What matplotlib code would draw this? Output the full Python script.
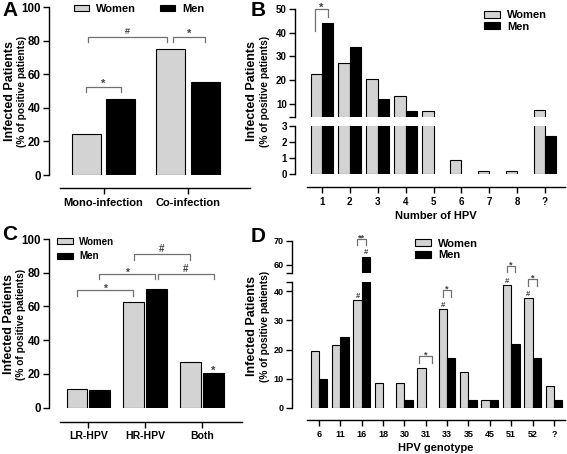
import numpy as np
import matplotlib
matplotlib.use('Agg')
import matplotlib.pyplot as plt

plt.rcParams['font.family'] = ['Liberation Sans', 'DejaVu Sans']
plt.rcParams['font.weight'] = 'bold'
plt.rcParams['axes.labelweight'] = 'bold'
plt.rcParams['axes.linewidth'] = 1.0

WOMEN_COLOR = '#d3d3d3'
MEN_COLOR = 'black'
BRACKET_COLOR = '#707070'
SIG_COLOR = '#404040'

# A - mono vs co-infection
a_cats = ['Mono-infection', 'Co-infection']
a_women = [24.4, 75.1]
a_men = [45.3, 55.5]

# B - number of HPV
b_cats = ['1', '2', '3', '4', '5', '6', '7', '8', '?']
b_women = [22.7, 27.3, 20.4, 13.2, 7.0, 0.9, 0.2, 0.2, 7.3]
b_men = [44.0, 34.1, 12.0, 7.0, 0, 0, 0, 0, 2.4]

# C - risk group
c_cats = ['LR-HPV', 'HR-HPV', 'Both']
c_women = [10.8, 62.8, 27.2]
c_men = [10.6, 70.6, 20.6]

# D - genotype
d_cats = ['6', '11', '16', '18', '30', '31', '33', '35', '45', '51', '52', '?']
d_women = [19.5, 21.6, 36.9, 8.6, 8.6, 13.5, 33.9, 12.3, 2.5, 42.2, 37.7, 7.4]
d_men = [9.7, 24.4, 63.4, 0, 2.5, 0, 17.1, 2.5, 2.5, 22.0, 17.1, 2.5]

W, H = 567, 454


def box(left, top, width, height):
    # pixel box (from top-left) -> figure fraction
    return [left / W, 1 - (top + height) / H, width / W, height / H]


def draw_bars(ax, women, men, width, off):
    x = np.arange(len(women))
    w = np.array(women, float)
    m = np.array(men, float)
    kw = dict(edgecolor='black', linewidth=0.8)
    bw = ax.bar(x[w > 0] - off, w[w > 0], width, color=WOMEN_COLOR, label='Women', **kw)
    bm = ax.bar(x[m > 0] + off, m[m > 0], width, color=MEN_COLOR, label='Men', **kw)
    return bw, bm


def style(ax, xlim, ylim, yticks, yfs, yout=8, xout=9.5, show_x=True, cats=None, xfs=7.5,
          breaks=()):
    ax.set_xlim(xlim)
    ax.set_ylim(ylim)
    ax.set_yticks(yticks)
    ax.set_yticks(list(breaks), minor=True)
    ax.spines[['top', 'right']].set_visible(False)
    ax.spines['left'].set_position(('outward', yout))
    ax.tick_params(axis='y', labelsize=yfs, length=4, width=1, pad=2)
    ax.tick_params(axis='y', which='minor', length=4, width=1)
    if show_x:
        ax.spines['bottom'].set_position(('outward', xout))
        ax.set_xticks(np.arange(len(cats)))
        ax.set_xticklabels(cats)
        ax.tick_params(axis='x', labelsize=xfs, length=4, width=1, pad=3)
    else:
        ax.spines['bottom'].set_visible(False)
        ax.tick_params(axis='x', bottom=False, labelbottom=False)


def bracket(ax, x1, x2, y, y1, y2, label, fs=7, dy=0):
    ax.plot([x1, x1, x2, x2], [y1, y, y, y2], color=BRACKET_COLOR, lw=0.9,
            clip_on=False)
    ax.annotate(label, ((x1 + x2) / 2, y), xytext=(0, dy), textcoords='offset points',
                ha='center', va='baseline', fontsize=fs, color=SIG_COLOR,
                annotation_clip=False)


def mark(ax, x, y, label, fs=5.5, dy=1.5):
    ax.annotate(label, (x, y), xytext=(0, dy), textcoords='offset points',
                ha='center', va='baseline', fontsize=fs, color=SIG_COLOR,
                annotation_clip=False)


def ylabel(x1, x2, y):
    fig.text(x1 / W, 1 - y / H, 'Infected Patients', rotation=90, fontsize=9,
             ha='center', va='center')
    fig.text(x2 / W, 1 - y / H, '(% of positive patients)', rotation=90, fontsize=7.3,
             ha='center', va='center')


fig = plt.figure(figsize=(W / 100, H / 100), dpi=100)

# ---------------- A ----------------
axA = fig.add_axes(box(60, 7, 190, 168))
bw, bm = draw_bars(axA, a_women, a_men, 0.34, 0.205)
style(axA, (-0.515, 1.734), (0, 100), [0, 20, 40, 60, 80, 100], 8.3, yout=8, xout=9.5,
      cats=a_cats, xfs=8)
bracket(axA, -0.205, 0.205, 52.4, 49.4, 49.4, '*', fs=8, dy=0)
bracket(axA, -0.187, 0.75, 82.1, 78.9, 78.9, '#', fs=6.5, dy=2.5)
bracket(axA, 0.818, 1.205, 82.1, 78.9, 78.9, '*', fs=8, dy=0)
axA.legend(handles=[bw, bm], ncol=2, loc='center left', bbox_to_anchor=(74 / W, 1 - 9 / H),
           bbox_transform=fig.transFigure, frameon=False, fontsize=8, borderpad=0,
           borderaxespad=0, handlelength=1.35, handleheight=0.55, handletextpad=0.6,
           columnspacing=2.2)

# ---------------- B ----------------
axBu = fig.add_axes(box(307, 9, 258, 108))
axBl = fig.add_axes(box(307, 126, 258, 48))
for ax in (axBu, axBl):
    bw, bm = draw_bars(ax, b_women, b_men, 0.41, 0.205)
style(axBu, (-0.538, 8.717), (4.5, 50), [10, 20, 30, 40, 50], 7, yout=8.5, show_x=False,
      breaks=[4.5])
style(axBl, (-0.538, 8.717), (0, 3), [0, 1, 2, 3], 7, yout=8.5, xout=9.5, cats=b_cats, xfs=7)
axBl.set_xlabel('Number of HPV', fontsize=8, labelpad=3)
bracket(axBu, -0.25, 0.215, 50, 40.7, 46.6, '*', fs=8, dy=-1)
axBu.legend(handles=[bw, bm], loc='center left', bbox_to_anchor=(484 / W, 1 - 21 / H),
            bbox_transform=fig.transFigure, frameon=False, fontsize=8, borderpad=0,
            borderaxespad=0, handlelength=1.45, handleheight=0.6, handletextpad=0.6,
            labelspacing=0.15)

# ---------------- C ----------------
axC = fig.add_axes(box(60, 239, 182, 168.7))
bw, bm = draw_bars(axC, c_women, c_men, 0.37, 0.2)
style(axC, (-0.5, 2.71), (0, 100), [0, 20, 40, 60, 80, 100], 8.3, yout=8, xout=10,
      cats=c_cats, xfs=7.5)
bracket(axC, -0.2, 0.79, 69.6, 66.4, 66.4, '*', fs=7.5, dy=-1)
bracket(axC, 0.186, 1.175, 79.2, 76.3, 76.3, '*', fs=7.5, dy=-1)
bracket(axC, 0.804, 1.793, 90.9, 87.7, 87.7, '#', fs=7, dy=1.5)
bracket(axC, 1.22, 2.22, 79.2, 76.3, 76.3, '#', fs=7, dy=1.5)
mark(axC, 2.2, c_men[2], '*', fs=8, dy=-1)
axC.legend(handles=[bw, bm], loc='center left', bbox_to_anchor=(57 / W, 1 - 249 / H),
           bbox_transform=fig.transFigure, frameon=False, fontsize=7, borderpad=0,
           borderaxespad=0, handlelength=1.6, handleheight=0.65, handletextpad=0.7,
           labelspacing=0.5)

# ---------------- D ----------------
axDu = fig.add_axes(box(307, 240.7, 258, 32.6))
axDl = fig.add_axes(box(307, 282.3, 258, 125.4))
for ax in (axDu, axDl):
    bw, bm = draw_bars(ax, d_women, d_men, 0.39, 0.195)
style(axDu, (-0.56, 11.52), (56.4, 70), [60, 70], 6.5, yout=11, show_x=False, breaks=[56.4])
style(axDl, (-0.56, 11.52), (0, 43.1), [0, 10, 20, 30, 40], 6.5, yout=11, xout=9,
      cats=d_cats, xfs=6.5, breaks=[43.1])
axDl.set_xlabel('HPV genotype', fontsize=8, labelpad=3)
bracket(axDu, 1.8, 2.2, 70.6, 68.2, 68.2, '**', fs=6.5, dy=-1)
mark(axDl, 2 - 0.195, d_women[2], '#')
mark(axDu, 2 + 0.195, d_men[2], '#')
bracket(axDl, 4.7, 5.3, 17.7, 15.2, 15.2, '*', fs=6.5, dy=-1)
bracket(axDl, 5.8, 6.2, 40.3, 38.0, 38.0, '*', fs=6.5, dy=-1)
mark(axDl, 6 - 0.195, d_women[6], '#')
bracket(axDl, 8.8, 9.2, 48.6, 46.6, 46.6, '*', fs=6.5, dy=-1)
mark(axDl, 9 - 0.195, d_women[9], '#')
bracket(axDl, 9.8, 10.2, 44.1, 42.0, 42.0, '*', fs=6.5, dy=-1)
mark(axDl, 10 - 0.195, d_women[10], '#')
axDu.legend(handles=[bw, bm], loc='center left', bbox_to_anchor=(415 / W, 1 - 249.5 / H),
            bbox_transform=fig.transFigure, frameon=False, fontsize=8, borderpad=0,
            borderaxespad=0, handlelength=1.45, handleheight=0.6, handletextpad=0.6,
            labelspacing=0.15)

# axis titles and panel letters
ylabel(10, 22.5, 91)
ylabel(252, 264.5, 91)
ylabel(9, 21.5, 324)
ylabel(252, 264.5, 326)
for letter, x, y in [('A', 10, 10), ('B', 258, 10), ('C', 10, 235), ('D', 258, 236)]:
    fig.text(x / W, 1 - y / H, letter, fontsize=15, fontweight='heavy',
             ha='center', va='center')

fig.savefig('out.png', dpi=100)
